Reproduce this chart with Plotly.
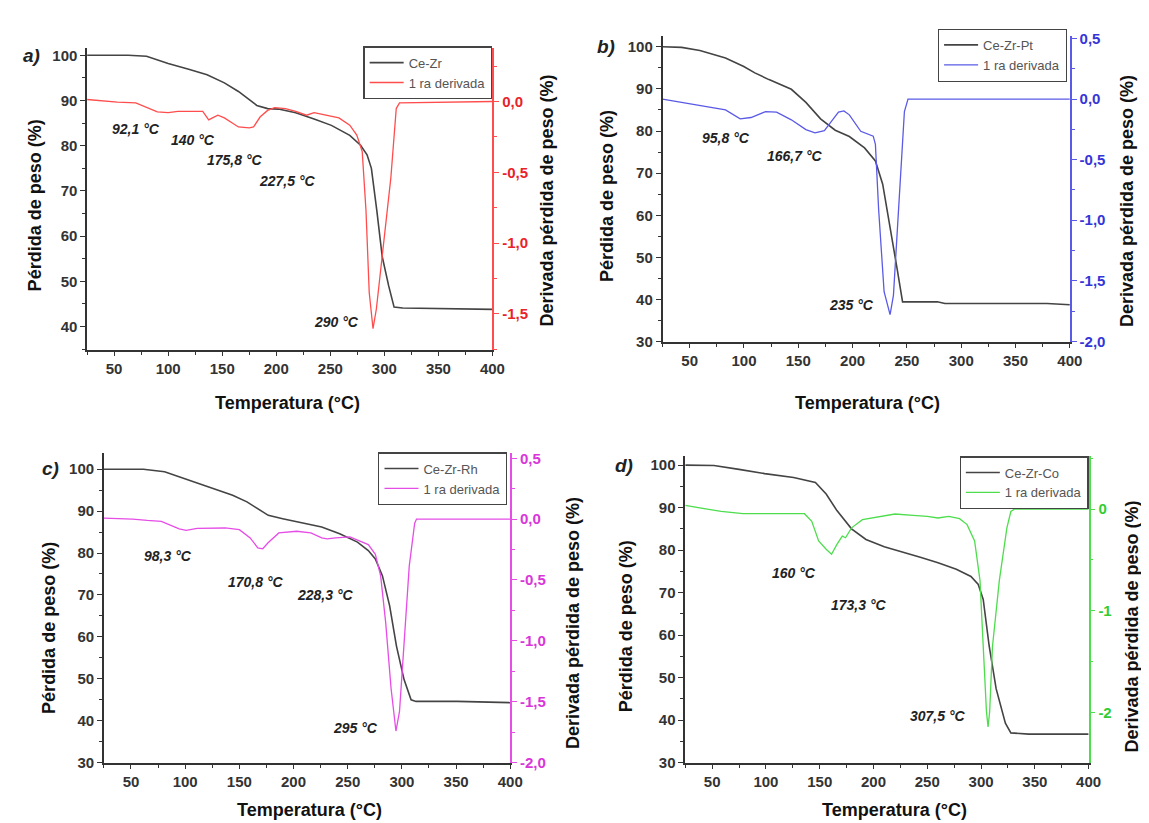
import plotly.graph_objects as go

W, H = 1149, 823

# ---------------- data ----------------
# Panel a) Ce-Zr
ta_x = [25, 63, 80, 100, 119, 136, 152, 165, 182, 192, 202, 218, 235, 251, 268, 278, 284, 288, 293, 298, 304, 309, 317, 400]
ta_y = [100, 100, 99.8, 98.2, 96.9, 95.7, 93.9, 92, 88.9, 88.2, 88.1, 87.3, 85.9, 84.5, 82.3, 80.1, 78, 75, 65.7, 55.5, 49, 44.3, 44.1, 43.8]
da_x = [25, 53, 70, 80, 90, 100, 109, 132, 137.5, 141, 146, 152, 165, 175, 179, 185, 192, 198.5, 208.5, 218, 228, 235, 245, 258, 268, 274.5, 279.5, 283, 286, 289.5, 292.6, 299, 306, 311, 314, 400]
da_y = [0.014, -0.005, -0.01, -0.04, -0.074, -0.079, -0.07, -0.07, -0.13, -0.116, -0.097, -0.116, -0.18, -0.186, -0.18, -0.11, -0.063, -0.044, -0.051, -0.07, -0.097, -0.079, -0.093, -0.116, -0.167, -0.237, -0.353, -0.77, -1.35, -1.605, -1.466, -1.0, -0.54, -0.05, -0.01, 0]

# Panel b) Ce-Zr-Pt
tb_x = [25, 42.6, 59.4, 83, 99.8, 110, 123, 143.6, 157, 170.5, 184, 197, 211, 221, 227.7, 234, 241, 246, 261, 278, 285, 379, 400]
tb_y = [100, 99.85, 99.1, 97.3, 95.3, 93.8, 92.2, 89.9, 86.8, 82.9, 80.2, 78.7, 76, 72.9, 67.4, 57.4, 47.3, 39.5, 39.5, 39.5, 39.1, 39.1, 38.8]
db_x = [25, 42.6, 59, 83, 96.5, 106.5, 120, 130, 143.6, 157, 165.4, 174, 180.5, 187, 192, 197, 207.5, 219, 221, 224, 229, 234.5, 237.6, 242.6, 247.7, 251, 400]
db_y = [0, -0.027, -0.057, -0.089, -0.163, -0.152, -0.103, -0.108, -0.171, -0.252, -0.279, -0.26, -0.184, -0.108, -0.098, -0.13, -0.266, -0.306, -0.374, -0.916, -1.59, -1.78, -1.62, -0.916, -0.103, 0, 0]

# Panel c) Ce-Zr-Rh
tc_x = [25, 61.5, 81, 97.7, 120.8, 143.8, 157, 170, 176.7, 190, 209.7, 226, 242.6, 259, 269, 275.5, 282, 288.7, 295, 302, 308.5, 313, 351, 400]
tc_y = [100, 100, 99.4, 97.9, 95.8, 93.8, 92.2, 90.2, 89, 88.2, 87.2, 86.2, 84.6, 82.6, 80.6, 78.6, 74.6, 67.4, 57.8, 49.8, 45, 44.6, 44.6, 44.3]
dc_x = [25, 51.6, 65, 78, 94.5, 101, 111, 137, 150, 160, 167, 171.6, 176.5, 186.4, 203, 216, 226, 231, 239, 252, 269, 275.5, 280.4, 285, 290, 294.5, 297.8, 302, 306.8, 311.8, 313.5, 400]
dc_y = [0.008, 0, -0.011, -0.019, -0.081, -0.092, -0.076, -0.073, -0.087, -0.155, -0.236, -0.244, -0.195, -0.114, -0.1, -0.114, -0.155, -0.163, -0.155, -0.147, -0.209, -0.29, -0.467, -0.847, -1.39, -1.742, -1.58, -0.98, -0.385, -0.033, 0, 0]

# Panel d) Ce-Zr-Co
td_x = [25, 51.7, 75, 98.8, 125.7, 146, 156, 166, 179.6, 193, 210, 226.7, 243.5, 260, 277, 290.6, 297.4, 302, 307.5, 314, 322.6, 327.7, 344.5, 400]
td_y = [100, 99.9, 99, 98, 97.1, 95.9, 93.2, 89.3, 85, 82.5, 80.8, 79.6, 78.3, 77, 75.5, 73.8, 71.9, 68.4, 57.5, 47.4, 39.3, 37, 36.7, 36.7]
dd_x = [25, 58.4, 78.6, 135.8, 142.6, 149, 156, 161, 166, 171, 174, 179.6, 189.7, 210, 220, 236.8, 250, 260, 270, 280, 287, 294, 299, 302, 305, 306.5, 308, 310.6, 317, 324, 327.7, 331, 400]
dd_y = [0.036, -0.023, -0.045, -0.045, -0.12, -0.313, -0.394, -0.443, -0.346, -0.265, -0.281, -0.184, -0.103, -0.071, -0.048, -0.061, -0.071, -0.087, -0.071, -0.094, -0.152, -0.313, -0.7, -1.347, -1.99, -2.14, -1.99, -1.35, -0.7, -0.184, -0.023, 0, 0]

names_tg = ["Ce-Zr", "Ce-Zr-Pt", "Ce-Zr-Rh", "Ce-Zr-Co"]
name_dtg = "1 ra derivada"
panel_labels = ["a)", "b)", "c)", "d)"]

right_ticks_abc = [0.5, 0.0, -0.5, -1.0, -1.5, -2.0]
right_text_abc = ["0,5", "0,0", "-0,5", "-1,0", "-1,5", "-2,0"]
right_ticks_d = [0, -1, -2]
right_text_d = ["0", "-1", "-2"]

peaks_a = [("92,1 °C", 69.8, 83.7), ("140 °C", 122.6, 81.2), ("175,8 °C", 162, 76.9), ("227,5 °C", 210, 72.2), ("290 °C", 256, 41.1)]
peaks_b = [("95,8 °C", 83, 78.3), ("166,7 °C", 147, 74.0), ("235 °C", 199, 38.8)]
peaks_c = [("98,3 °C", 84.6, 79.3), ("170,8 °C", 165, 73.0), ("228,3 °C", 229.5, 70.0), ("295 °C", 257.4, 38.2)]
peaks_d = [("160 °C", 125.7, 74.6), ("173,3 °C", 186.3, 67.2), ("307,5 °C", 260, 40.9)]

# ---------------- layout geometry (pixels) ----------------
panels = [
    dict(tgx=ta_x, tgy=ta_y, dx=da_x, dy=da_y, color="#ff4d4d", tcol="#e8232a",
         px=(80, 490), py=(35, 342), lrange=(34.78, 101.52), rrange=(-1.757, 0.375),
         rticks=right_ticks_abc[1:5], rtext=right_text_abc[1:5], rminor=0.25,
         peaks=peaks_a, leg=(490, 33), lab=(24, 42),
         ltitle=(27, 195), rtitle=(545, 190), xtitle=(283, 396)),
    dict(tgx=tb_x, tgy=tb_y, dx=db_x, dy=db_y, color="#5a5ae6", tcol="#3535d8",
         px=(662, 1074), py=(22, 334), lrange=(29.9, 102.63), rrange=(-2.008, 0.524),
         rticks=right_ticks_abc, rtext=right_text_abc, rminor=0.25,
         peaks=peaks_b, leg=(1071, 15), lab=(605, 33),
         ltitle=(606, 185), rtitle=(1132, 190), xtitle=(869, 396)),
    dict(tgx=tc_x, tgy=tc_y, dx=dc_x, dy=dc_y, color="#e64de6", tcol="#d936d9",
         px=(97, 508), py=(447, 762), lrange=(29.9, 103.77), rrange=(-2.005, 0.54),
         rticks=right_ticks_abc, rtext=right_text_abc, rminor=0.25,
         peaks=peaks_c, leg=(505, 446), lab=(43, 462),
         ltitle=(42, 625), rtitle=(572, 620), xtitle=(305, 810)),
    dict(tgx=td_x, tgy=td_y, dx=dd_x, dy=dd_y, color="#4ddd4d", tcol="#33cc33",
         px=(685, 1093), py=(450, 762), lrange=(29.9, 102.06), rrange=(-2.496, 0.519),
         rticks=right_ticks_d, rtext=right_text_d, rminor=0.5,
         peaks=peaks_d, leg=(1093, 450), lab=(623, 459),
         ltitle=(625, 623), rtitle=(1137, 623), xtitle=(897, 810)),
]

FONT = "Liberation Sans, Arial, sans-serif"
AXC = "#333333"

fig = go.Figure()
layout = dict(
    width=W, height=H, margin=dict(l=0, r=0, t=0, b=0),
    paper_bgcolor="white", plot_bgcolor="rgba(0,0,0,0)",
    font=dict(family=FONT, color=AXC), showlegend=True,
)
annotations = []

for i, p in enumerate(panels):
    n = i + 1
    xs = "" if n == 1 else str(n)
    yl = 2 * n - 1
    yr = 2 * n
    yls = "" if yl == 1 else str(yl)
    leg = "legend" if n == 1 else "legend%d" % n

    fig.add_trace(go.Scatter(x=p["tgx"], y=p["tgy"], mode="lines", name=names_tg[i],
                             line=dict(color="#444444", width=1.6),
                             xaxis="x" + xs, yaxis="y" + yls, legend=leg))
    fig.add_trace(go.Scatter(x=p["dx"], y=p["dy"], mode="lines", name=name_dtg,
                             line=dict(color=p["color"], width=1.3),
                             xaxis="x" + xs, yaxis="y" + str(yr), legend=leg))

    xd = [p["px"][0] / W, p["px"][1] / W]
    yd = [1 - p["py"][1] / H, 1 - p["py"][0] / H]

    layout["xaxis" + xs] = dict(
        domain=xd, range=[25, 400], anchor="y" + yls,
        tickmode="linear", tick0=0, dtick=50,
        ticks="outside", ticklen=4, tickwidth=1.2, tickcolor=AXC,
        minor=dict(tick0=0, dtick=25, ticks="outside", ticklen=3, tickcolor=AXC),
        showline=True, linecolor=AXC, linewidth=1.5, showgrid=False, zeroline=False,
        tickfont=dict(family=FONT, size=15, color=AXC, weight="bold"),
    )
    layout["yaxis" + yls] = dict(
        domain=yd, range=list(p["lrange"]), anchor="x" + xs,
        tickmode="linear", tick0=0, dtick=10,
        ticks="outside", ticklen=5, tickwidth=1.2, tickcolor=AXC,
        minor=dict(tick0=0, dtick=5, ticks="outside", ticklen=3, tickcolor=AXC),
        showline=True, linecolor=AXC, linewidth=1.5, showgrid=False, zeroline=False,
        tickfont=dict(family=FONT, size=15, color=AXC, weight="bold"),
    )
    layout["yaxis" + str(yr)] = dict(
        range=list(p["rrange"]), overlaying="y" + yls, anchor="x" + xs, side="right",
        tickmode="array", tickvals=p["rticks"], ticktext=p["rtext"],
        ticks="outside", ticklen=5, tickwidth=1.2, tickcolor=p["color"],
        minor=dict(tick0=0, dtick=p["rminor"], ticks="outside", ticklen=3, tickcolor=p["color"]),
        showline=True, linecolor=p["color"], linewidth=1.5, showgrid=False, zeroline=False,
        tickfont=dict(family=FONT, size=15, color=p["tcol"], weight="bold"),
    )
    layout[leg] = dict(
        x=p["leg"][0] / W, y=1 - p["leg"][1] / H, xanchor="right", yanchor="top",
        xref="paper", yref="paper",
        bgcolor="white", bordercolor="#444444", borderwidth=1.2,
        font=dict(family=FONT, size=13, color="#555555"),
        tracegroupgap=0, itemwidth=34,
    )

    # panel label
    annotations.append(dict(text="<b><i>%s</i></b>" % panel_labels[i], x=p["lab"][0] / W, y=1 - p["lab"][1] / H,
                            xref="paper", yref="paper", showarrow=False, xanchor="center", yanchor="middle",
                            font=dict(family=FONT, size=19, color="#222222")))
    # axis titles
    annotations.append(dict(text="<b>Pérdida de peso (%)</b>", x=p["ltitle"][0] / W, y=1 - p["ltitle"][1] / H,
                            xref="paper", yref="paper", showarrow=False, textangle=-90,
                            xanchor="center", yanchor="middle", font=dict(family=FONT, size=18, color="#111111")))
    annotations.append(dict(text="<b>Derivada pérdida de peso (%)</b>", x=p["rtitle"][0] / W, y=1 - p["rtitle"][1] / H,
                            xref="paper", yref="paper", showarrow=False, textangle=-90,
                            xanchor="center", yanchor="middle", font=dict(family=FONT, size=18, color="#111111")))
    annotations.append(dict(text="<b>Temperatura (°C)</b>", x=p["xtitle"][0] / W, y=1 - p["xtitle"][1] / H,
                            xref="paper", yref="paper", showarrow=False,
                            xanchor="center", yanchor="middle", font=dict(family=FONT, size=18, color="#111111")))
    # peak labels
    for (t, px_, py_) in p["peaks"]:
        annotations.append(dict(text="<b><i>%s</i></b>" % t, x=px_, y=py_, xref="x" + xs, yref="y" + yls,
                                showarrow=False, xanchor="center", yanchor="middle",
                                font=dict(family=FONT, size=14, color="#222222")))

layout["annotations"] = annotations
fig.update_layout(**layout)
fig.write_html("out.html")
